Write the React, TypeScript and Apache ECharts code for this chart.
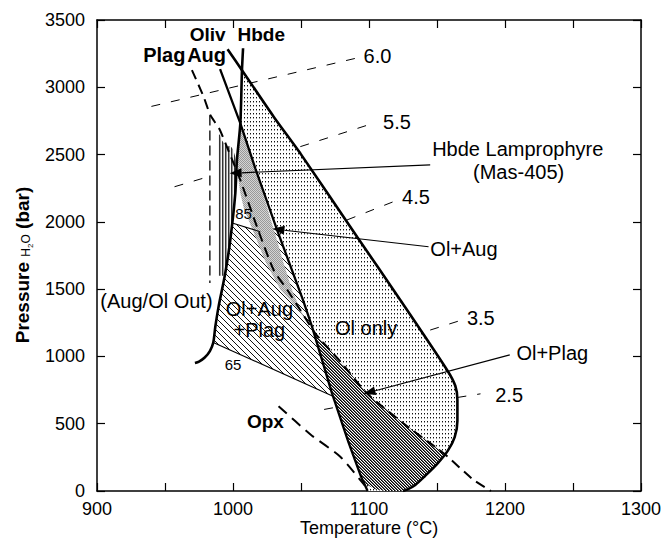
import React, { useEffect, useRef } from "react";
import * as echarts from "echarts";

// ---------- data (Temperature °C, Pressure bar) ----------
const olivLine = [
  [996, 3282], [1006.6, 3127], [1030, 2780], [1049.5, 2509], [1091.2, 1890], [1123, 1419],
  [1157.4, 899], [1163.5, 780], [1165, 676], [1165, 520], [1163, 400], [1158, 300],
  [1150, 200], [1141, 110], [1134, 45], [1128, 10], [1125, 0],
];
const hbdeLine = [
  [1007.4, 3290], [1006.6, 3127], [1005.4, 2732], [1002.9, 2460], [1001.7, 2212], [998, 1865],
  [994.3, 1618], [989.4, 1370], [987, 1221], [985.5, 1104], [983, 1040], [979, 990], [975, 962], [972, 952],
];
const augLine = [
  [990.5, 3135], [1005.4, 2732], [1016.4, 2398], [1032.4, 1940], [1051.5, 1419], [1058.1, 1221],
  [1072.8, 726], [1085, 360], [1094, 110], [1099, 0],
];
const plagLine = [
  [969.8, 3128], [978.4, 2930], [983.3, 2794], [990, 2690], [997, 2520], [1005.4, 2311],
  [1017.6, 1964], [1029.9, 1642], [1040, 1494], [1049.5, 1345], [1060.5, 1172], [1080, 950],
  [1098.5, 726], [1125, 505], [1154.9, 280], [1176.9, 82], [1189.7, 0],
];
const opxLine = [[1033.5, 630], [1057, 420], [1078.9, 255], [1097, 40]];
const augOlOutLine = [[983, 2790], [983, 1545]];
const line85 = [[999.4, 1992], [1020, 1927]];
const line65 = [[985.5, 1104], [1073.5, 705]];

// H2O isopleths (wt%)
const contour60 = [[940, 2858], [1090, 3215]];
const contour55a = [[957, 2261], [982, 2336]];
const contour55b = [[1049.5, 2559], [1104.6, 2737]];
const contour45 = [[1083.8, 2014], [1118, 2150]];
const contour35 = [[1145, 1196], [1168.4, 1271]];
const contour25a = [[1067, 606], [1077, 625]];
const contour25b = [[1165, 695], [1182, 722]];

// phase fields
const olOnlyField = [
  [1006.6, 3127], [1030, 2780], [1049.5, 2509], [1091.2, 1890], [1123, 1419], [1157.4, 899],
  [1163.5, 780], [1165, 676], [1165, 520], [1163, 400], [1158, 300], [1150, 200], [1141, 110],
  [1134, 45], [1128, 10], [1125, 0], [1099, 0], [1094, 110], [1085, 360], [1072.8, 726],
  [1058.1, 1221], [1051.5, 1419], [1032.4, 1940], [1016.4, 2398], [1005.4, 2732],
];
const olPlagField = [
  [1059.3, 1190], [1072.8, 726], [1085, 360], [1093, 130], [1098, 50], [1104, 14], [1112, 0],
  [1125, 0], [1128, 10], [1134, 45], [1141, 110], [1150, 200], [1155.8, 280],
  [1154.9, 280], [1125, 505], [1098.5, 726], [1080, 950], [1060.5, 1172],
];
const olAugField = [
  [1005.4, 2732], [1016.4, 2398], [1022, 2212], [1030.5, 1927], [1037, 1700], [1043.4, 1494],
  [1049, 1360], [1055, 1240], [1050, 1320], [1042, 1420], [1035, 1494], [1024, 1700],
  [1015, 1927], [1008, 2100], [1005.4, 2212], [1003.5, 2350], [1003, 2460], [1004.5, 2650],
];
const olAugPlagField = [
  [999.4, 1992], [1020, 1927], [1032.4, 1940], [1051.5, 1419], [1058.1, 1221], [1072.8, 726],
  [1073.5, 705], [985.5, 1104], [987, 1221], [989.4, 1370], [994.3, 1618], [998, 1865],
];
const lamprophyreField = [
  [989, 1600], [989, 2645], [990.5, 2650], [991.5, 2610], [993, 2590], [994.5, 2572], [996, 2560],
  [998, 2566], [1000, 2540], [1001.8, 2480], [1002.8, 2420], [1001.7, 2212], [998, 1865],
  [995.5, 1700], [993.5, 1600],
];

// arrows: from label to field
const arrowFrom = [[1145, 2423], [1143.8, 1815], [1203.5, 1012]];
const arrowTo = [[997.5, 2361], [1029, 1948], [1096, 722]];

// annotation texts
const labelTexts = [
  "Oliv", "Hbde", "Plag", "Aug", "6.0", "5.5", "Hbde Lamprophyre", "(Mas-405)", "4.5",
  "Ol+Aug", "3.5", "Ol+Plag", "2.5", "(Aug/Ol Out)", "Ol+Aug", "+Plag", "Ol only", "Opx", "85", "65",
];
const labelCoords = [
  [981.4, 3392], [1020.8, 3392], [949.5, 3240], [980.6, 3240], [1096, 3236], [1110.3, 2744],
  [1209.4, 2545], [1210, 2374], [1124.3, 2181], [1145.1, 1798], [1172, 1285], [1208.4, 1027],
  [1192.8, 714], [985, 1412], [1019.4, 1355], [1019.4, 1194], [1097.9, 1209], [1023.8, 515],
  [1007.8, 2064], [1000, 937],
];
const labelAlign = [
  "center", "center", "center", "center", "left", "left", "center", "center", "left",
  "left", "left", "left", "left", "right", "center", "center", "center", "center", "center", "center",
];
const labelBold = [true, true, true, true, false, false, false, false, false, false, false, false, false, false, false, false, false, true, false, false];
const labelSize = [19, 19, 20, 20, 20, 20, 20, 20, 20, 20, 20, 20, 20, 20, 20, 20, 20, 19, 15, 15];

const FONT = "'Liberation Sans', Arial, Helvetica, sans-serif";

function tile(w: number, h: number, px: [number, number, string][]) {
  const c = document.createElement("canvas");
  c.width = w;
  c.height = h;
  const ctx = c.getContext("2d")!;
  ctx.fillStyle = "#fff";
  ctx.fillRect(0, 0, w, h);
  for (const [x, y, col] of px) {
    ctx.fillStyle = col;
    ctx.fillRect(x, y, 1, 1);
  }
  return { image: c, repeat: "repeat", imageWidth: w, imageHeight: h };
}

export default function App() {
  const ref = useRef<HTMLDivElement>(null);
  useEffect(() => {
    if (!ref.current) return;
    const chart = echarts.init(ref.current, null, { renderer: "svg" });

    const dots = tile(3, 4, [[1, 1, "#111"], [1, 2, "#999"]]);
    const heavyHatch = tile(3, 3, [
      [0, 0, "#000"], [1, 1, "#000"], [2, 2, "#000"],
      [1, 0, "#666"], [2, 1, "#666"], [0, 2, "#666"],
    ]);
    const lightHatch = tile(6, 6, [[0, 0, "#111"], [1, 1, "#111"], [2, 2, "#111"], [3, 3, "#111"], [4, 4, "#111"], [5, 5, "#111"]]);
    const grey = tile(2, 2, [[0, 0, "#999"], [1, 0, "#d4d4d4"], [0, 1, "#d4d4d4"], [1, 1, "#999"]]);
    const stripes = tile(3, 1, [[0, 0, "#333"], [1, 0, "#999"], [2, 0, "#f4f4f4"]]);

    const polygon = (pts: number[][], fill: any, z: number) => ({
      type: "custom",
      silent: true,
      z,
      data: [pts[0]],
      renderItem: (_p: any, api: any) => ({
        type: "polygon",
        shape: { points: pts.map((q) => api.coord(q)) },
        style: { fill, stroke: "none" },
      }),
    });
    const line = (data: number[][], width: number, type: any, z: number, smooth: any = false) => ({
      type: "line",
      data,
      silent: true,
      showSymbol: false,
      symbol: "none",
      smooth,
      z,
      lineStyle: { color: "#000", width, type, cap: "butt" },
    });
    const thinDash = [9, 11];
    const plain = (v: number) => String(v);

    const option: any = {
      animation: false,
      backgroundColor: "#fff",
      grid: { left: 97, right: 24, top: 20, bottom: 48, containLabel: false, outerBoundsMode: "none" },
      xAxis: [
        {
          type: "value", min: 900, max: 1300, interval: 100, position: "bottom",
          axisLine: { show: true, onZero: false, lineStyle: { color: "#000", width: 1.5 } },
          axisTick: { show: true, inside: true, length: 8, lineStyle: { color: "#000", width: 1.2 } },
          minorTick: { show: true, splitNumber: 2, length: 8, lineStyle: { color: "#000", width: 1.2 } },
          axisLabel: { fontSize: 18, color: "#000", margin: 9, fontFamily: FONT, formatter: plain },
          splitLine: { show: false }, minorSplitLine: { show: false },
        },
        {
          type: "value", min: 900, max: 1300, interval: 50, position: "top",
          axisLine: { show: true, onZero: false, lineStyle: { color: "#000", width: 1.5 } },
          axisTick: { show: true, inside: true, length: 8, lineStyle: { color: "#000", width: 1.2 } },
          axisLabel: { show: false }, splitLine: { show: false },
        },
      ],
      yAxis: [
        {
          type: "value", min: 0, max: 3500, interval: 500, position: "left",
          axisLine: { show: true, onZero: false, lineStyle: { color: "#000", width: 1.5 } },
          axisTick: { show: true, inside: true, length: 8, lineStyle: { color: "#000", width: 1.2 } },
          axisLabel: { fontSize: 18, color: "#000", margin: 12, fontFamily: FONT, formatter: plain },
          splitLine: { show: false },
        },
        {
          type: "value", min: 0, max: 3500, interval: 500, position: "right",
          axisLine: { show: true, onZero: false, lineStyle: { color: "#000", width: 1.5 } },
          axisTick: { show: true, inside: true, length: 8, lineStyle: { color: "#000", width: 1.2 } },
          axisLabel: { show: false }, splitLine: { show: false },
        },
      ],
      graphic: [
        {
          type: "text",
          x: 369,
          y: 528,
          style: {
            text: "Temperature (°C)",
            fontSize: 18,
            fontFamily: FONT,
            fill: "#000",
            align: "center",
            verticalAlign: "middle",
            textAlign: "center",
            textVerticalAlign: "middle",
          },
        },
        {
          type: "text",
          x: 22,
          y: 265,
          rotation: Math.PI / 2,
          style: {
            text: "{b|Pressure }{s|H}{ss|2}{s|O}{b| (bar)}",
            align: "center",
            verticalAlign: "middle",
            textAlign: "center",
            textVerticalAlign: "middle",
            fill: "#000",
            rich: {
              b: { fontSize: 19, fontWeight: "bold", fontFamily: FONT, lineHeight: 24, verticalAlign: "middle", fill: "#000" },
              s: { fontSize: 12, fontFamily: FONT, lineHeight: 24, verticalAlign: "bottom", fill: "#000", padding: [0, 0, 2, 0] },
              ss: { fontSize: 8, fontFamily: FONT, lineHeight: 24, verticalAlign: "bottom", fill: "#000", padding: [0, 0, 0, 0] },
            },
          },
        },
      ],
      series: [
        line(contour60, 1, thinDash, 1),
        line(contour55a, 1, thinDash, 1),
        line(contour55b, 1, thinDash, 1),
        line(contour45, 1, thinDash, 1),
        line(contour35, 1, thinDash, 1),
        line(contour25a, 1, thinDash, 1),
        line(contour25b, 1, thinDash, 1),
        polygon(olOnlyField, dots, 2),
        polygon(olPlagField, heavyHatch, 3),
        polygon(olAugPlagField, lightHatch, 3),
        polygon(olAugField, grey, 4),
        polygon(lamprophyreField, stripes, 4),
        line(augOlOutLine, 1.3, [10, 5], 5),
        line(line85, 1.1, "solid", 5),
        line(line65, 1.1, "solid", 5),
        line(plagLine, 2, [10, 6], 6, 0.2),
        line(opxLine, 2, [11, 7], 6, 0.2),
        line(augLine, 2.3, "solid", 7),
        line(hbdeLine, 2.6, "solid", 7, 0.25),
        line(olivLine, 2.6, "solid", 7, 0.25),
        {
          type: "custom",
          silent: true,
          z: 8,
          data: arrowTo,
          renderItem: (params: any, api: any) => {
            const i = params.dataIndex;
            const s = api.coord(arrowFrom[i]);
            const e = api.coord(arrowTo[i]);
            const dx = e[0] - s[0], dy = e[1] - s[1];
            const L = Math.hypot(dx, dy) || 1;
            const ux = dx / L, uy = dy / L;
            const hl = 12, hw = 4.5;
            const bx = e[0] - ux * hl, by = e[1] - uy * hl;
            return {
              type: "group",
              children: [
                { type: "line", shape: { x1: s[0], y1: s[1], x2: bx, y2: by }, style: { stroke: "#000", lineWidth: 1.2 } },
                {
                  type: "polygon",
                  shape: { points: [[e[0], e[1]], [bx - uy * hw, by + ux * hw], [bx + uy * hw, by - ux * hw]] },
                  style: { fill: "#000", stroke: "none" },
                },
              ],
            };
          },
        },
        {
          type: "custom",
          silent: true,
          z: 9,
          data: labelCoords,
          renderItem: (params: any, api: any) => {
            const i = params.dataIndex;
            const p = api.coord(labelCoords[i]);
            return {
              type: "text",
              x: p[0],
              y: p[1],
              style: {
                text: labelTexts[i],
                fontSize: labelSize[i],
                fontWeight: labelBold[i] ? "bold" : "normal",
                fontFamily: FONT,
                fill: "#000",
                align: labelAlign[i],
                verticalAlign: "middle",
              },
            };
          },
        },
      ],
    };
    chart.setOption(option);
    return () => chart.dispose();
  }, []);
  return <div ref={ref} style={{ width: 665, height: 539, position: "absolute", left: 0, top: 0, background: "#fff" }} />;
}
